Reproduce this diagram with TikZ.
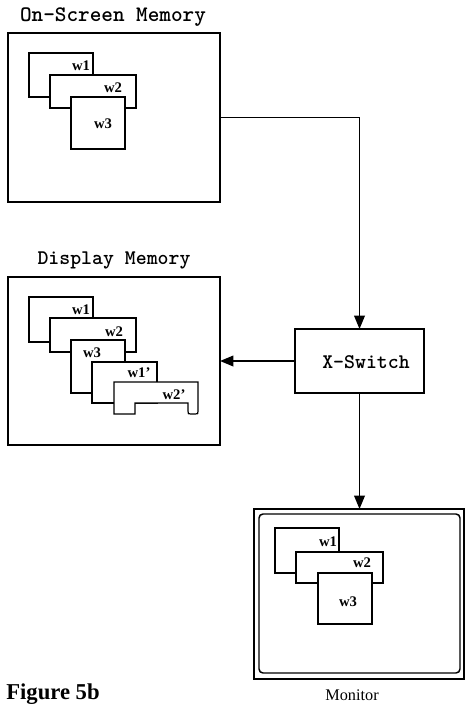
\documentclass[tikz,border=0pt]{standalone}
\usepackage{fontspec}
\setmainfont{Liberation Serif}
\usetikzlibrary{arrows.meta}
\begin{document}
\begin{tikzpicture}[x=0.75pt,y=-0.75pt,
  box/.style={draw,line width=1.1pt,inner sep=0pt,outer sep=0pt,anchor=center},
  win/.style={draw,fill=white,line width=0.9pt},
  wl/.style={font=\bfseries\fontsize{11pt}{12pt}\selectfont,inner sep=0pt,anchor=center},
  ttl/.style={font=\ttfamily\bfseries\fontsize{15.6pt}{17pt}\selectfont,inner sep=0pt,anchor=center},
  conn/.style={line width=1.1pt,-{Triangle[length=10pt,width=8pt]}}]
\useasboundingbox (0,0) rectangle (465,709);
% boxes
\node[box,minimum width=159pt,minimum height=126.75pt] (onscreen) at (114,117.5) {};
\node[box,minimum width=159pt,minimum height=126pt] (display) at (114,361) {};
\node[box,minimum width=96.75pt,minimum height=48pt] (xswitch) at (359.5,361) {};
\node[ttl] (xsw) at (366,362) {X-Switch};
\node[box,minimum width=157.5pt,minimum height=127.5pt] (monitor) at (359,594) {};
\draw[line width=1.1pt,rounded corners=3pt] (259,514) rectangle (460,673);
% titles
\node[ttl,font=\ttfamily\bfseries\fontsize{16.6pt}{17pt}\selectfont] (ostitle) at (113,17) {On-Screen Memory};
\node[ttl] (dmtitle) at (114,260) {Display Memory};
\node[font=\fontsize{12.2pt}{14pt}\selectfont,inner sep=0pt] (montitle) at (352,695) {Monitor};
\node[font=\bfseries\fontsize{17pt}{19pt}\selectfont,inner sep=0pt,anchor=west] (fig) at (6,694) {Figure 5b};
% on-screen windows
\draw[win] (29,53) rectangle (93,97);
\draw[win] (50,75) rectangle (136,108);
\draw[win] (71,97) rectangle (125,149);
\node[wl] (a1) at (81,66) {w1};
\node[wl] (a2) at (113,88) {w2};
\node[wl] (a3) at (103,124) {w3};
% display windows
\draw[win] (29,297) rectangle (93,342);
\draw[win] (50,318) rectangle (136,352);
\draw[win] (71,340) rectangle (125,393);
\draw[win] (92,362) rectangle (157,403);
\draw[win] (114,382) -- (198,382) -- (198,411) .. controls (198,414) .. (195,414) -- (191,414)
  .. controls (188,414) .. (188,411) -- (188,403) -- (135,403) -- (135,414) -- (114,414) -- cycle;
\node[wl] (b1) at (81,310) {w1};
\node[wl] (b2) at (114,332) {w2};
\node[wl] (b3) at (92,353) {w3};
\node[wl] (b4) at (139,373) {w1'};
\node[wl] (b5) at (174,395) {w2'};
% monitor windows
\draw[win] (275,528) rectangle (339,573);
\draw[win] (296,552) rectangle (383,583);
\draw[win] (318,573) rectangle (372,624);
\node[wl] (c1) at (328,542) {w1};
\node[wl] (c2) at (362,563) {w2};
\node[wl] (c3) at (348,602) {w3};
% connectors
\draw[conn] (onscreen.east) -| (xswitch.north);
\draw[conn] (xswitch.west) -- (xswitch.west -| display.east);
\draw[conn] (xswitch.south) -- (xswitch.south |- monitor.north);
\end{tikzpicture}
\end{document}
